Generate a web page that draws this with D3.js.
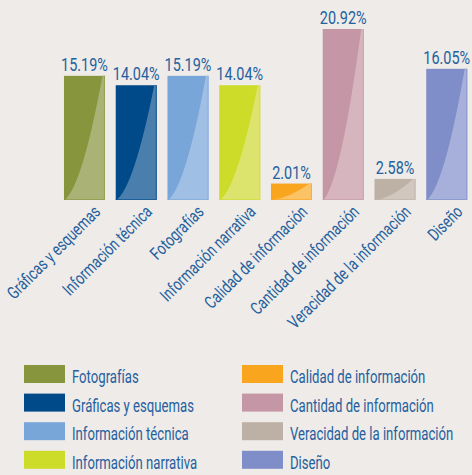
<!DOCTYPE html>
<html>
<head>
<meta charset="utf-8">
<script src="https://cdn.jsdelivr.net/npm/d3@7"></script>
<style>
  body { margin: 0; background: #eeebe8; }
  text { font-family: Roboto, "Noto Sans", sans-serif; fill: #24609e; }
</style>
</head>
<body>
<script>
var categories = ["Gráficas y esquemas", "Información técnica", "Fotografías", "Información narrativa",
                  "Calidad de información", "Cantidad de información", "Veracidad de la información", "Diseño"];
var values = [15.19, 14.04, 15.19, 14.04, 2.01, 20.92, 2.58, 16.05];
var labels = ["15.19%", "14.04%", "15.19%", "14.04%", "2.01%", "20.92%", "2.58%", "16.05%"];
var darkColors = ["#87963c", "#004a8a", "#78a6d8", "#cddc29", "#f9a51e", "#c597a6", "#bdb0a5", "#7f8ec8"];
var lightColors = ["#aab276", "#4a7fad", "#a0bfe4", "#dde46e", "#fbc266", "#d7b5bf", "#d2c7be", "#a6b0da"];

var legendNames = ["Fotografías", "Gráficas y esquemas", "Información técnica", "Información narrativa",
                   "Calidad de información", "Cantidad de información", "Veracidad de la información", "Diseño"];
var legendColors = ["#87963c", "#004a8a", "#78a6d8", "#cddc29", "#f9a51e", "#c597a6", "#bdb0a5", "#7f8ec8"];

var data = categories.map(function (c, i) {
  return { cat: c, value: values[i], label: labels[i], dark: darkColors[i], light: lightColors[i] };
});

var sx = 0.76; // squeeze text to look like a condensed face

var svg = d3.select("body").append("svg")
  .attr("width", 472)
  .attr("height", 475);

svg.append("rect").attr("width", 472).attr("height", 475).attr("fill", "#eeebe8");

var x = d3.scaleBand()
  .domain(categories)
  .range([58.6, 472.6])
  .paddingInner(0.208)
  .paddingOuter(0.104);

var y = d3.scaleLinear()
  .domain([0, 20.92])
  .range([200, 29]);

var bars = svg.selectAll("g.bar")
  .data(data)
  .enter()
  .append("g")
  .attr("class", "bar");

bars.append("rect")
  .attr("x", function (d) { return x(d.cat); })
  .attr("y", function (d) { return y(d.value); })
  .attr("width", x.bandwidth())
  .attr("height", function (d) { return y(0) - y(d.value); })
  .attr("fill", function (d) { return d.dark; });

// lighter right part with curved edge
bars.append("path")
  .attr("fill", function (d) { return d.light; })
  .attr("d", function (d) {
    var x0 = x(d.cat), w = x.bandwidth();
    var yb = y(0), yt = y(d.value), h = yb - yt;
    var p = d3.path();
    p.moveTo(x0 + 0.02 * w, yb);
    p.quadraticCurveTo(x0 + 0.45 * w, yb - 0.12 * h, x0 + 0.94 * w, yt);
    p.lineTo(x0 + w, yt);
    p.lineTo(x0 + w, yb);
    p.closePath();
    return p.toString();
  });

// thin darker edge on right and bottom
bars.append("path")
  .attr("fill", "none")
  .attr("stroke", function (d) { return d.dark; })
  .attr("stroke-opacity", 0.6)
  .attr("stroke-width", 1)
  .attr("d", function (d) {
    var x1 = x(d.cat) + x.bandwidth() - 0.5;
    return "M" + x1 + "," + y(d.value) + "V" + (y(0) - 0.5) + "H" + x(d.cat);
  });

bars.append("text")
  .attr("text-anchor", "middle")
  .attr("transform", function (d) {
    return "translate(" + (x(d.cat) + x.bandwidth() / 2) + "," + (y(d.value) - 5) + ") scale(" + sx + ",1)";
  })
  .style("font-size", "19px")
  .text(function (d) { return d.label; });

bars.append("text")
  .attr("text-anchor", "end")
  .attr("transform", function (d) {
    return "translate(" + (x(d.cat) + x.bandwidth() / 2 + 17) + ",213) rotate(-45) scale(" + sx + ",1)";
  })
  .style("font-size", "17.5px")
  .text(function (d) { return d.cat; });

// legend
var legend = svg.selectAll("g.legend")
  .data(legendNames)
  .enter()
  .append("g")
  .attr("class", "legend")
  .attr("transform", function (d, i) {
    var col = Math.floor(i / 4), row = i % 4;
    return "translate(" + (col === 0 ? 24 : 242) + "," + (365 + row * 28.6) + ")";
  });

legend.append("rect")
  .attr("width", 41)
  .attr("height", 18)
  .attr("fill", function (d, i) { return legendColors[i]; });

legend.append("text")
  .attr("transform", "translate(48,18) scale(0.73,1)")
  .style("font-size", "18px")
  .text(function (d) { return d; });
</script>
</body>
</html>
